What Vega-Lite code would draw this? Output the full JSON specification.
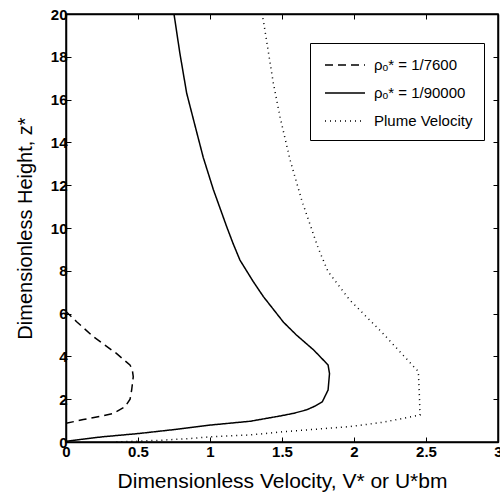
{
  "$schema": "https://vega.github.io/schema/vega-lite/v6.json",
  "width": 432,
  "height": 428,
  "autosize": "none",
  "padding": {"left": 66, "top": 14, "right": 2, "bottom": 60},
  "background": "white",
  "config": {
    "view": {"stroke": "black", "strokeWidth": 1.5},
    "font": "Liberation Sans",
    "axis": {
      "grid": false,
      "domainColor": "black",
      "domainWidth": 1.5,
      "tickColor": "black",
      "tickWidth": 1,
      "tickSize": -5,
      "labelFont": "Liberation Sans",
      "labelFontSize": 15,
      "labelFontWeight": "bold",
      "labelColor": "black",
      "titleFont": "Liberation Sans",
      "titleFontSize": 20,
      "titleFontWeight": "normal",
      "titleColor": "black"
    }
  },
  "data": {
    "values": [
      {"s": "ρₒ* =  1/7600", "v": 0.0, "z": 0.87},
      {"s": "ρₒ* =  1/7600", "v": 0.12, "z": 1.05},
      {"s": "ρₒ* =  1/7600", "v": 0.25, "z": 1.22},
      {"s": "ρₒ* =  1/7600", "v": 0.33, "z": 1.34},
      {"s": "ρₒ* =  1/7600", "v": 0.41, "z": 1.65},
      {"s": "ρₒ* =  1/7600", "v": 0.445, "z": 2.0},
      {"s": "ρₒ* =  1/7600", "v": 0.456, "z": 2.43},
      {"s": "ρₒ* =  1/7600", "v": 0.467, "z": 3.05},
      {"s": "ρₒ* =  1/7600", "v": 0.46, "z": 3.4},
      {"s": "ρₒ* =  1/7600", "v": 0.444, "z": 3.6},
      {"s": "ρₒ* =  1/7600", "v": 0.35, "z": 4.14},
      {"s": "ρₒ* =  1/7600", "v": 0.19, "z": 4.92},
      {"s": "ρₒ* =  1/7600", "v": 0.074, "z": 5.62},
      {"s": "ρₒ* =  1/7600", "v": 0.0, "z": 6.1},
      {"s": "ρₒ* = 1/90000", "v": 0.0, "z": 0.03},
      {"s": "ρₒ* = 1/90000", "v": 0.1, "z": 0.12},
      {"s": "ρₒ* = 1/90000", "v": 0.25, "z": 0.24},
      {"s": "ρₒ* = 1/90000", "v": 0.51, "z": 0.4},
      {"s": "ρₒ* = 1/90000", "v": 0.75, "z": 0.58},
      {"s": "ρₒ* = 1/90000", "v": 1.0, "z": 0.79},
      {"s": "ρₒ* = 1/90000", "v": 1.28, "z": 0.97},
      {"s": "ρₒ* = 1/90000", "v": 1.49, "z": 1.22},
      {"s": "ρₒ* = 1/90000", "v": 1.58, "z": 1.34},
      {"s": "ρₒ* = 1/90000", "v": 1.67, "z": 1.5},
      {"s": "ρₒ* = 1/90000", "v": 1.73, "z": 1.68},
      {"s": "ρₒ* = 1/90000", "v": 1.78, "z": 1.88},
      {"s": "ρₒ* = 1/90000", "v": 1.82, "z": 2.43},
      {"s": "ρₒ* = 1/90000", "v": 1.83, "z": 3.2},
      {"s": "ρₒ* = 1/90000", "v": 1.82, "z": 3.6},
      {"s": "ρₒ* = 1/90000", "v": 1.72, "z": 4.3},
      {"s": "ρₒ* = 1/90000", "v": 1.6, "z": 5.0},
      {"s": "ρₒ* = 1/90000", "v": 1.51, "z": 5.6},
      {"s": "ρₒ* = 1/90000", "v": 1.44, "z": 6.2},
      {"s": "ρₒ* = 1/90000", "v": 1.37, "z": 6.8},
      {"s": "ρₒ* = 1/90000", "v": 1.3, "z": 7.5},
      {"s": "ρₒ* = 1/90000", "v": 1.208, "z": 8.5},
      {"s": "ρₒ* = 1/90000", "v": 1.16, "z": 9.28},
      {"s": "ρₒ* = 1/90000", "v": 1.116, "z": 10.06},
      {"s": "ρₒ* = 1/90000", "v": 1.023, "z": 11.8},
      {"s": "ρₒ* = 1/90000", "v": 0.953, "z": 13.3},
      {"s": "ρₒ* = 1/90000", "v": 0.903, "z": 14.6},
      {"s": "ρₒ* = 1/90000", "v": 0.838, "z": 16.3},
      {"s": "ρₒ* = 1/90000", "v": 0.79, "z": 18.2},
      {"s": "ρₒ* = 1/90000", "v": 0.75, "z": 20.0},
      {"s": "Plume Velocity", "v": 0.35, "z": 0.0},
      {"s": "Plume Velocity", "v": 0.65, "z": 0.08},
      {"s": "Plume Velocity", "v": 0.84, "z": 0.15},
      {"s": "Plume Velocity", "v": 1.02, "z": 0.25},
      {"s": "Plume Velocity", "v": 1.28, "z": 0.33},
      {"s": "Plume Velocity", "v": 1.51, "z": 0.48},
      {"s": "Plume Velocity", "v": 1.97, "z": 0.72},
      {"s": "Plume Velocity", "v": 2.2, "z": 0.92},
      {"s": "Plume Velocity", "v": 2.458, "z": 1.26},
      {"s": "Plume Velocity", "v": 2.455, "z": 2.0},
      {"s": "Plume Velocity", "v": 2.447, "z": 3.29},
      {"s": "Plume Velocity", "v": 2.2, "z": 5.08},
      {"s": "Plume Velocity", "v": 1.97, "z": 6.64},
      {"s": "Plume Velocity", "v": 1.82, "z": 7.96},
      {"s": "Plume Velocity", "v": 1.752, "z": 9.05},
      {"s": "Plume Velocity", "v": 1.64, "z": 11.23},
      {"s": "Plume Velocity", "v": 1.556, "z": 13.18},
      {"s": "Plume Velocity", "v": 1.486, "z": 15.2},
      {"s": "Plume Velocity", "v": 1.44, "z": 16.76},
      {"s": "Plume Velocity", "v": 1.37, "z": 19.72},
      {"s": "Plume Velocity", "v": 1.36, "z": 20.0}
    ]
  },
  "layer": [
    {
      "mark": {"type": "line", "color": "black", "strokeWidth": 1.5, "clip": true},
      "encoding": {
        "x": {
          "field": "v", "type": "quantitative",
          "scale": {"domain": [0, 3], "nice": false, "zero": false},
          "axis": {"orient": "bottom", "values": [0, 0.5, 1, 1.5, 2, 2.5, 3], "format": "~g", "labelPadding": 7, "titlePadding": 11, "title": "Dimensionless Velocity, V* or U*bm", "titleFontSize": 21, "labelFlush": false}
        },
        "y": {
          "field": "z", "type": "quantitative",
          "scale": {"domain": [0, 20], "nice": false, "zero": false},
          "axis": {"orient": "left", "values": [0, 2, 4, 6, 8, 10, 12, 14, 16, 18, 20], "format": "~g", "labelPadding": 4, "titlePadding": 15, "title": "Dimensionless Height, z*", "labelFlush": false}
        },
        "strokeDash": {
          "field": "s", "type": "nominal",
          "scale": {"domain": ["ρₒ* =  1/7600", "ρₒ* = 1/90000", "Plume Velocity"], "range": [[8, 5], [1, 0], [1, 4]]},
          "legend": {
            "title": null,
            "orient": "none",
            "legendX": 244,
            "legendY": 29,
            "strokeColor": "black",
            "fillColor": "white",
            "padding": 11,
            "rowPadding": 9,
            "symbolType": "M-0.7,0H3.3",
            "symbolSize": 400,
            "symbolStrokeWidth": 1.5,
            "symbolStrokeColor": "black",
            "labelFontSize": 15,
            "labelOffset": 31,
            "labelColor": "black",
            "labelFont": "Liberation Sans"
          }
        },
        "order": {"field": "z", "type": "quantitative"}
      }
    },
    {
      "mark": {"type": "point", "opacity": 0},
      "encoding": {
        "x": {"field": "v", "type": "quantitative", "axis": {"orient": "top", "values": [0, 0.5, 1, 1.5, 2, 2.5, 3], "labels": false, "title": null}},
        "y": {"field": "z", "type": "quantitative", "axis": {"orient": "right", "values": [0, 2, 4, 6, 8, 10, 12, 14, 16, 18, 20], "labels": false, "title": null}}
      }
    }
  ],
  "resolve": {"axis": {"x": "independent", "y": "independent"}}
}
